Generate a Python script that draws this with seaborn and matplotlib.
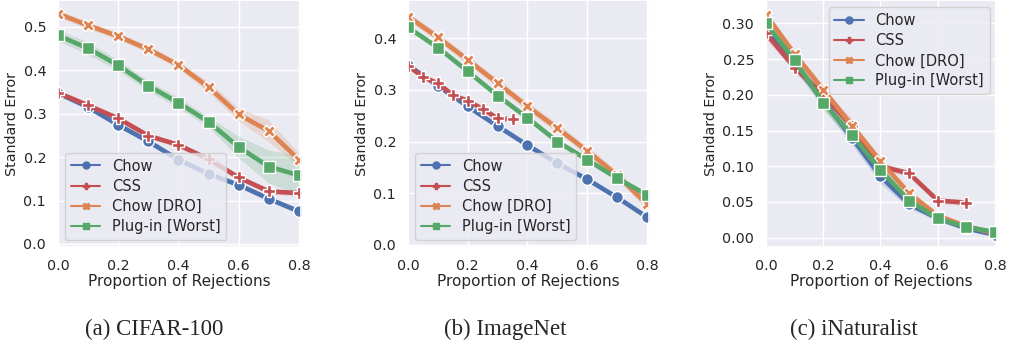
import numpy as np
import pandas as pd
import matplotlib
matplotlib.use("Agg")
import matplotlib.pyplot as plt
from matplotlib.lines import Line2D
import seaborn as sns

# ---------------- data ----------------
methods = ["Chow", "CSS", "Chow [DRO]", "Plug-in [Worst]"]
x_std = [0.0, 0.1, 0.2, 0.3, 0.4, 0.5, 0.6, 0.7, 0.8]

# CIFAR-100
cifar_chow = [0.347, 0.315, 0.274, 0.236, 0.194, 0.161, 0.136, 0.104, 0.075]
cifar_css = [0.348, 0.319, 0.289, 0.249, 0.228, 0.195, 0.153, 0.121, 0.117]
cifar_dro = [0.530, 0.503, 0.478, 0.448, 0.412, 0.361, 0.298, 0.260, 0.194]
cifar_plug = [0.480, 0.450, 0.411, 0.364, 0.325, 0.281, 0.223, 0.178, 0.158]
cifar_chow_err = [0.006, 0.006, 0.006, 0.006, 0.006, 0.006, 0.006, 0.006, 0.006]
cifar_css_err = [0.006, 0.006, 0.006, 0.006, 0.006, 0.006, 0.006, 0.006, 0.006]
cifar_dro_err = [0.008, 0.008, 0.008, 0.008, 0.008, 0.012, 0.015, 0.025, 0.015]
cifar_plug_err = [0.012, 0.015, 0.012, 0.012, 0.012, 0.012, 0.025, 0.038, 0.045]

# ImageNet
imnet_chow = [0.348, 0.308, 0.268, 0.230, 0.193, 0.158, 0.127, 0.092, 0.054]
x_css_imnet = [0.0, 0.05, 0.1, 0.15, 0.2, 0.25, 0.3, 0.35]
imnet_css = [0.347, 0.325, 0.313, 0.290, 0.279, 0.263, 0.245, 0.243]
imnet_dro = [0.442, 0.402, 0.358, 0.313, 0.268, 0.226, 0.182, 0.135, 0.079]
imnet_plug = [0.421, 0.382, 0.336, 0.289, 0.246, 0.200, 0.165, 0.129, 0.097]
imnet_chow_err = [0.004] * 9
imnet_css_err = [0.004] * 8
imnet_dro_err = [0.008, 0.008, 0.008, 0.009, 0.009, 0.009, 0.009, 0.009, 0.010]
imnet_plug_err = [0.005] * 9

# iNaturalist
x_css_inat = [0.0, 0.1, 0.2, 0.3, 0.4, 0.5, 0.6, 0.7]
inat_chow = [0.290, 0.243, 0.192, 0.140, 0.086, 0.047, 0.027, 0.013, 0.004]
inat_css = [0.286, 0.238, 0.200, 0.156, 0.100, 0.090, 0.052, 0.049]
inat_dro = [0.312, 0.257, 0.207, 0.157, 0.107, 0.062, 0.031, 0.016, 0.006]
inat_plug = [0.300, 0.248, 0.189, 0.144, 0.095, 0.052, 0.027, 0.015, 0.008]
inat_chow_err = [0.008, 0.008, 0.010, 0.010, 0.010, 0.006, 0.004, 0.003, 0.002]
inat_css_err = [0.008, 0.006, 0.008, 0.010, 0.006, 0.004, 0.004, 0.004]
inat_dro_err = [0.006, 0.005, 0.006, 0.006, 0.006, 0.005, 0.003, 0.002, 0.002]
inat_plug_err = [0.008, 0.006, 0.010, 0.010, 0.008, 0.005, 0.003, 0.002, 0.002]

captions = ["(a) CIFAR-100", "(b) ImageNet", "(c) iNaturalist"]
yticks_list = [[0.0, 0.1, 0.2, 0.3, 0.4, 0.5],
               [0.0, 0.1, 0.2, 0.3, 0.4],
               [0.0, 0.05, 0.10, 0.15, 0.20, 0.25, 0.30]]
ylims = [(-0.007, 0.5614), (-0.004, 0.474), (-0.013, 0.3326)]

panels = [
    {"Chow": (x_std, cifar_chow, cifar_chow_err),
     "CSS": (x_std, cifar_css, cifar_css_err),
     "Chow [DRO]": (x_std, cifar_dro, cifar_dro_err),
     "Plug-in [Worst]": (x_std, cifar_plug, cifar_plug_err)},
    {"Chow": (x_std, imnet_chow, imnet_chow_err),
     "CSS": (x_css_imnet, imnet_css, imnet_css_err),
     "Chow [DRO]": (x_std, imnet_dro, imnet_dro_err),
     "Plug-in [Worst]": (x_std, imnet_plug, imnet_plug_err)},
    {"Chow": (x_std, inat_chow, inat_chow_err),
     "CSS": (x_css_inat, inat_css, inat_css_err),
     "Chow [DRO]": (x_std, inat_dro, inat_dro_err),
     "Plug-in [Worst]": (x_std, inat_plug, inat_plug_err)},
]
legend_locs = ["lower left", "lower left", "upper right"]

# ---------------- style ----------------
sns.set_theme(style="darkgrid")
plt.rcParams["font.family"] = ["DejaVu Sans"]
deep = sns.color_palette("deep")
palette = {"Chow": deep[0], "CSS": deep[3], "Chow [DRO]": deep[1], "Plug-in [Worst]": deep[2]}
markers = {"Chow": "o", "CSS": "P", "Chow [DRO]": "X", "Plug-in [Worst]": "s"}

fig = plt.figure(figsize=(10.11, 3.45), dpi=100)
W, H = 1011, 345
boxes = [(58, 301), (408, 649), (766, 997)]
caption_cx = [154, 505, 854]
top_px, bot_px = 0, 247

for i, (panel, (l, r)) in enumerate(zip(panels, boxes)):
    ax = fig.add_axes([l / W, (H - bot_px) / H, (r - l) / W, (bot_px - top_px) / H])
    rows = []
    for m in methods:
        xs, ys, es = panel[m]
        for xv, yv in zip(xs, ys):
            rows.append({"x": xv, "y": yv, "method": m})
    df = pd.DataFrame(rows)
    for m in methods:
        xs, ys, es = panel[m]
        ys = np.array(ys); es = np.array(es)
        ax.fill_between(xs, ys - es, ys + es, color=palette[m], alpha=0.2, lw=0)
    sns.lineplot(data=df, x="x", y="y", hue="method", style="method",
                 hue_order=methods, style_order=methods,
                 palette=palette, markers=markers, dashes=False,
                 linewidth=3.3, markersize=8.5, markeredgecolor="white",
                 markeredgewidth=1.0, errorbar=None, legend=False, ax=ax)
    ax.set_xlim(0, 0.807)
    ax.set_ylim(*ylims[i])
    ax.set_xticks([0.0, 0.2, 0.4, 0.6, 0.8])
    ax.set_yticks(yticks_list[i])
    if i == 2:
        ax.set_yticklabels([f"{v:.2f}" for v in yticks_list[i]])
    else:
        ax.set_yticklabels([f"{v:.1f}" for v in yticks_list[i]])
    ax.tick_params(labelsize=10.3, pad=2.5)
    ax.set_xlabel("Proportion of Rejections", fontsize=11, labelpad=1)
    ax.set_ylabel("Standard Error", fontsize=10.3, labelpad=3)
    handles = [Line2D([0], [0], color=palette[m], marker=markers[m], lw=1.5,
                      markersize=5, markeredgecolor=palette[m]) for m in methods]
    ax.legend(handles, methods, loc=legend_locs[i], fontsize=10.5, framealpha=0.8,
              handlelength=2.0, borderpad=0.4, labelspacing=0.35)
    fig.text(caption_cx[i] / W, (H - 335) / H, captions[i], ha="center", va="baseline",
             fontsize=16.5, family="Liberation Serif")

fig.savefig("out.png", dpi=100)
